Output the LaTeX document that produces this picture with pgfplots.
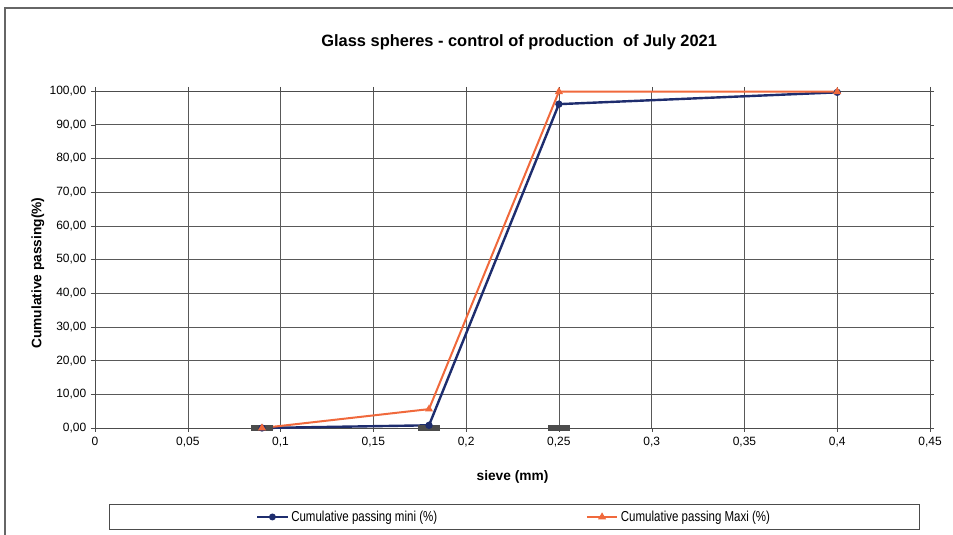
\documentclass[border=0pt]{standalone}
\usepackage{pgfplots}
\pgfplotsset{compat=1.18}
\usepackage{fontspec}
\setmainfont{Liberation Sans}
\newfontfamily\narrowfont[FakeStretch=0.8]{Liberation Sans}
\definecolor{minblue}{RGB}{30,45,110}
\definecolor{maxorange}{RGB}{240,105,60}
\begin{document}
\begin{tikzpicture}
\path[use as bounding box] (0,0) rectangle (714.75pt,401.25pt);
\draw[gray!80!black, line width=0.8pt] (3.75pt,0) -- (3.75pt,395.25pt) -- (714.75pt,395.25pt);
\begin{axis}[
  at={(71.25pt,80.25pt)}, anchor=south west,
  scale only axis, width=626.25pt, height=252.75pt,
  xmin=0, xmax=0.45, ymin=0, ymax=100,
  xtick={0,0.05,...,0.45}, ytick={0,10,...,100},
  grid=major, major grid style={gray!70!black, line width=0.4pt},
  axis line style={gray!60!black},
  tick style={gray!60!black},
  tick align=outside, major tick length=3pt,
  /pgf/number format/assume math mode=true,
  ticklabel style={font=\fontsize{9}{10}\selectfont},
  yticklabel style={/pgf/number format/.cd, fixed, fixed zerofill, precision=2, use comma},
  xticklabel style={/pgf/number format/.cd, fixed, precision=2, use comma},
  scaled x ticks=false,
  title={\bfseries Glass spheres - control of production\ \ of July 2021},
  title style={at={(axis description cs:0.508,1.121)}, anchor=center, font=\fontsize{12.3}{14}\selectfont},
  xlabel={\bfseries sieve (mm)},
  xlabel style={at={(axis description cs:0.5,-0.145)}, anchor=center, font=\fontsize{10.3}{12}\selectfont},
  ylabel={\bfseries Cumulative passing(\%)},
  ylabel style={at={(axis description cs:-0.0683,0.46)}, anchor=center, font=\fontsize{10.3}{12}\selectfont},
  legend columns=2,
  legend style={at={(axis description cs:0.5024,-0.264)}, anchor=center, draw=gray!60!black,
    font=\narrowfont\fontsize{10.8}{12}\selectfont, inner xsep=110pt, inner ysep=2.5pt,
    /tikz/every even column/.append style={column sep=109.5pt}},
  legend image code/.code={\draw[mark repeat=2,mark phase=2] plot coordinates {(0cm,0cm) (0.4cm,0cm) (0.8cm,0cm)};},
  legend image post style={line width=1.5pt},
  legend cell align=left,
  clip=false,
]
\addplot[draw=none, forget plot, only marks, mark=-, mark size=8pt, mark options={line width=4pt, draw=black!70}]
  coordinates {(0.09,0) (0.18,0) (0.25,0)};
\addplot[minblue, line width=1.8pt, mark=*, mark size=1.8pt, mark options={fill=minblue}]
  coordinates {(0.09,0) (0.18,0.8) (0.25,96.1) (0.40,99.6)};
\addlegendentry{Cumulative passing mini (\%)}
\addplot[maxorange, line width=1.5pt, mark=triangle*, mark size=2pt, mark options={fill=maxorange}]
  coordinates {(0.09,0) (0.18,5.6) (0.25,99.8) (0.40,99.8)};
\addlegendentry{Cumulative passing Maxi (\%)}
\end{axis}
\end{tikzpicture}
\end{document}
